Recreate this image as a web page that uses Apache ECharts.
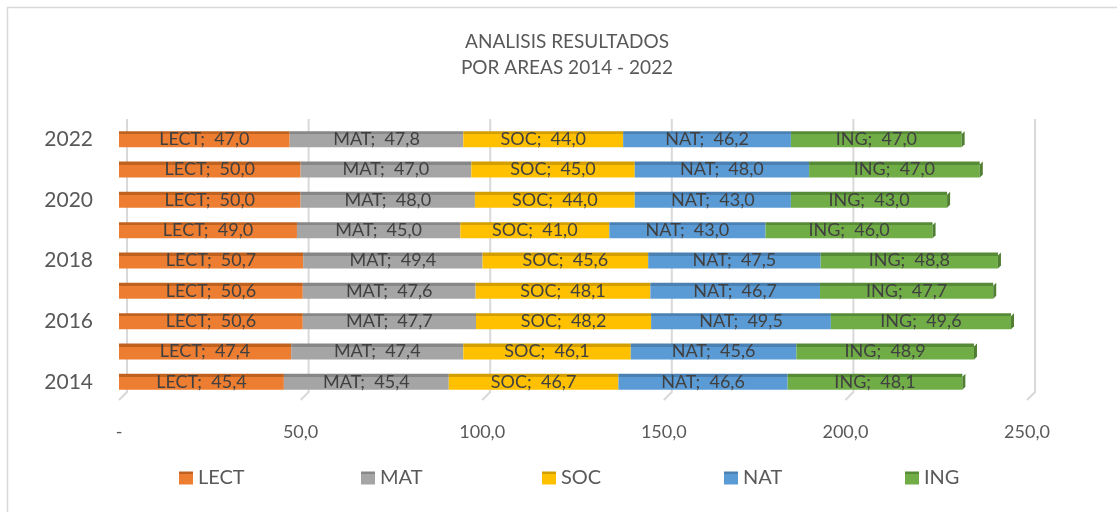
<!DOCTYPE html>
<html>
<head>
<meta charset="utf-8">
<script src="https://cdn.jsdelivr.net/npm/echarts@6/dist/echarts.min.js"></script>
<style>html,body{margin:0;padding:0;background:#fff;}#c{width:1117px;height:512px;}</style>
</head>
<body>
<div id="c"></div>
<script>
const years = ['2014','2015','2016','2017','2018','2019','2020','2021','2022'];
const LECT = [45.4, 47.4, 50.6, 50.6, 50.7, 49.0, 50.0, 50.0, 47.0];
const MAT  = [45.4, 47.4, 47.7, 47.6, 49.4, 45.0, 48.0, 47.0, 47.8];
const SOC  = [46.7, 46.1, 48.2, 48.1, 45.6, 41.0, 44.0, 45.0, 44.0];
const NAT  = [46.6, 45.6, 49.5, 46.7, 47.5, 43.0, 43.0, 48.0, 46.2];
const ING  = [48.1, 48.9, 49.6, 47.7, 48.8, 46.0, 43.0, 47.0, 47.0];
const xTicks = [0, 50, 100, 150, 200, 250];

const seriesDefs = [
  {name:'LECT', data:LECT, color:'#ED7D31', top:'#C0621F'},
  {name:'MAT',  data:MAT,  color:'#A5A5A5', top:'#878787'},
  {name:'SOC',  data:SOC,  color:'#FFC000', top:'#D29E00'},
  {name:'NAT',  data:NAT,  color:'#5B9BD5', top:'#4A80B2'},
  {name:'ING',  data:ING,  color:'#70AD47', top:'#578A36'}
];
const legendLeft = [174, 356, 537, 719, 900];
const totals = years.map((y,i)=>seriesDefs.reduce((s,d)=>s+d.data[i],0));
const fmt = v => v.toFixed(1).replace('.', ',');
const FONT = 'Lato';

const chart = echarts.init(document.getElementById('c'));
const series = seriesDefs.map(d => ({
  name: d.name,
  type: 'bar',
  stack: 'total',
  barWidth: 16,
  data: d.data,
  itemStyle: {
    color: new echarts.graphic.LinearGradient(0,0,0,1,[
      {offset:0, color:d.top},{offset:0.19, color:d.top},
      {offset:0.19, color:d.color},{offset:1, color:d.color}
    ])
  },
  label: {
    show: true, position: 'inside',
    formatter: p => p.seriesName + ';  ' + fmt(p.value),
    color: '#404040', fontSize: 18, fontFamily: FONT
  },
  emphasis: {disabled: true},
  z: 3
}));

// 3D-like gridlines (back lines with diagonal to front)
series.push({
  type: 'custom',
  name: 'grid3d',
  silent: true,
  z: 1,
  data: xTicks.map(v => [v]),
  renderItem: (params, api) => {
    const v = api.value(0);
    const front = api.coord([v, years[0]]);
    const x = front[0];
    const top = params.coordSys.y - 5;
    const bottom = params.coordSys.y + params.coordSys.height;
    return {
      type: 'polyline',
      shape: {points: [[x+8, top], [x+8, bottom-5], [x, bottom+3]]},
      style: {stroke: '#D9D9D9', lineWidth: 2, fill: null}
    };
  }
});

// right side face of each stacked bar
series.push({
  type: 'custom',
  name: 'side',
  silent: true,
  z: 4,
  data: totals.map((t,i) => [t, years[i]]),
  renderItem: (params, api) => {
    const p = api.coord([api.value(0), api.value(1)]);
    const x = p[0], yc = p[1];
    const yt = yc - 8, yb = yc + 8;
    return {
      type: 'polygon',
      shape: {points: [[x, yt+3], [x+3, yt], [x+3, yb-3], [x, yb]]},
      style: {fill: '#507E32'}
    };
  }
});

chart.setOption({
  backgroundColor: '#fff',
  animation: false,
  title: {
    text: 'ANALISIS RESULTADOS\nPOR AREAS 2014 - 2022',
    left: 562, top: 24, textAlign: 'center',
    textStyle: {fontSize: 19, fontWeight: 'normal', color: '#595959', fontFamily: FONT, lineHeight: 26}
  },
  legend: seriesDefs.map((d, i) => ({
    data: [d.name],
    left: legendLeft[i], top: 463,
    itemWidth: 14, itemHeight: 13,
    icon: 'rect',
    textStyle: {fontSize: 20, color: '#595959', fontFamily: FONT},
    selectedMode: false
  })),
  graphic: [{
    type: 'rect', shape: {x: 7.5, y: 7.5, width: 1200, height: 600},
    style: {fill: null, stroke: '#D9D9D9', lineWidth: 1.5}, silent: true, z: 0
  }],
  grid: {left: 119, right: 90, top: 124, bottom: 115},
  xAxis: {
    type: 'value', min: 0, max: 250, interval: 50,
    axisLine: {show: false}, axisTick: {show: false},
    splitLine: {show: false},
    axisLabel: {formatter: v => v === 0 ? '-' : fmt(v), fontSize: 18, color: '#595959', fontFamily: FONT, margin: 26}
  },
  yAxis: {
    type: 'category', data: years,
    axisLine: {show: false}, axisTick: {show: false},
    axisLabel: {interval: 1, fontSize: 21, color: '#595959', fontFamily: FONT, margin: 26}
  },
  series: series
});
</script>
</body>
</html>
